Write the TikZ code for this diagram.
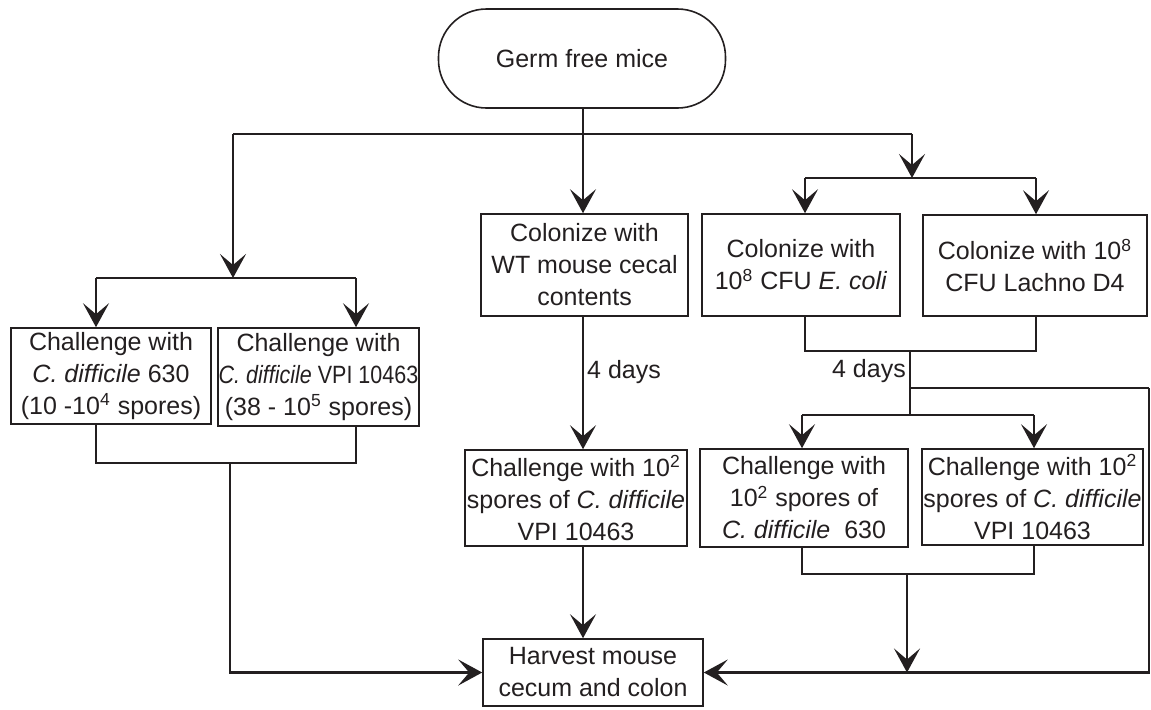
\documentclass[tikz,border=0pt]{standalone}
\usepackage{fontspec}
\setmainfont{Liberation Sans}
\usetikzlibrary{arrows.meta}
\definecolor{ink}{HTML}{231F20}

\begin{document}
\begin{tikzpicture}[x=0.5pt, y=-0.5pt,
        box/.style={draw=ink, line width=0.8pt, inner sep=0pt, align=center, text=ink,
            font=\fontsize{12.5}{16}\selectfont},
        flow/.style={draw=ink, line width=1.2pt},
        arr/.style={flow, -{Stealth[length=12pt, width=13pt, inset=5.5pt]}},
        lbl/.style={text=ink, inner sep=1.5pt, font=\fontsize{12.5}{16}\selectfont}]
            \useasboundingbox (0,0) rectangle (1151,709);

            \node[box, rounded corners=24pt, minimum width=143.5pt, minimum height=49.5pt] (germ) at (582,58.5) {Germ free mice};

            \node[box, minimum width=100pt, minimum height=48pt] (chalA) at (111,376)
                {Challenge with\\ \textit{C. difficile} 630\\ (10 -10\textsuperscript{4} spores)};
            \node[box, minimum width=100.5pt, minimum height=49pt] (chalB) at (318.5,377)
                {Challenge with\\ \scalebox{0.86}[1]{\textit{C. difficile} VPI 10463}\\ (38 - 10\textsuperscript{5} spores)};
            \node[box, minimum width=103.5pt, minimum height=51pt] (colWT) at (584.5,265)
                {Colonize with\\ WT mouse cecal\\ contents};
            \node[box, minimum width=99pt, minimum height=51pt] (colEC) at (801,265)
                {Colonize with\\ 10\textsuperscript{8} CFU \textit{E. coli}};
            \node[box, minimum width=112pt, minimum height=50.5pt] (colLD) at (1035,265.5)
                {Colonize with 10\textsuperscript{8}\\ CFU Lachno D4};
            \node[box, minimum width=111pt, minimum height=48pt] (chalM) at (576,498)
                {Challenge with 10\textsuperscript{2}\\ spores of \textit{C. difficile}\\ VPI 10463};
            \node[box, minimum width=104pt, minimum height=49pt] (chalR1) at (804,498)
                {Challenge with\\ 10\textsuperscript{2} spores of\\ \textit{C. difficile}\ \ 630};
            \node[box, minimum width=110.5pt, minimum height=48pt] (chalR2) at (1032.5,497)
                {Challenge with 10\textsuperscript{2}\\ spores of \textit{C. difficile}\\ VPI 10463};
            \node[box, minimum width=110pt, minimum height=33.5pt] (harvest) at (593,672.5)
                {Harvest mouse\\ cecum and colon};

            \coordinate (topL) at (233,134);
            \coordinate (topM) at (583,134);
            \coordinate (topR) at (912,134);
            \coordinate (splL) at (233,278);
            \coordinate (aL) at (96,278);
            \coordinate (aR) at (356,278);
            \coordinate (bL) at (96,463);
            \coordinate (bR) at (356,463);
            \coordinate (bM) at (230,463);
            \coordinate (splR) at (912,178);
            \coordinate (cL) at (805,178);
            \coordinate (cR) at (1036,178);
            \coordinate (dL) at (805,351);
            \coordinate (dR) at (1036,351);
            \coordinate (dM) at (910,351);
            \coordinate (eM) at (910,415);
            \coordinate (eL) at (802,415);
            \coordinate (eR) at (1034,415);
            \coordinate (side) at (910,388);
            \coordinate (sideR) at (1149,388);
            \coordinate (fL) at (802,574);
            \coordinate (fR) at (1034,574);
            \coordinate (fM) at (907,574);

            \draw[flow] (germ.south -| topM) -- (topM);
            \draw[flow] (topL) -- (topR);
            \draw[arr] (topL) -- (splL);
            \draw[arr] (topM) -- (colWT.north -| topM);
            \draw[arr] (topR) -- (splR);

            \draw[flow] (aL) -- (aR);
            \draw[arr] (aL) -- (aL |- chalA.north);
            \draw[arr] (aR) -- (aR |- chalB.north);
            \draw[flow] (aL |- chalA.south) -- (bL) -- (bR) -- (aR |- chalB.south);
            \draw[arr] (bM) |- (harvest.west);

            \draw[arr] (colWT.south -| topM) -- node[right, lbl, pos=0.42] {4 days} (chalM.north -| topM);
            \draw[arr] (chalM.south -| topM) -- (harvest.north -| topM);

            \draw[flow] (cL) -- (cR);
            \draw[arr] (cL) -- (cL |- colEC.north);
            \draw[arr] (cR) -- (cR |- colLD.north);
            \draw[flow] (cL |- colEC.south) -- (dL) -- (dR) -- (cR |- colLD.south);
            \draw[flow] (dM) -- node[left, lbl, pos=0.31] {4 days} (eM);
            \draw[flow] (side) -- (sideR);
            \draw[arr] (sideR) |- (harvest.east);

            \draw[flow] (eL) -- (eR);
            \draw[arr] (eL) -- (eL |- chalR1.north);
            \draw[arr] (eR) -- (eR |- chalR2.north);
            \draw[flow] (eL |- chalR1.south) -- (fL) -- (fR) -- (eR |- chalR2.south);
            \draw[arr] (fM) -- (fM |- harvest.east);
        \end{tikzpicture}
\end{document}
